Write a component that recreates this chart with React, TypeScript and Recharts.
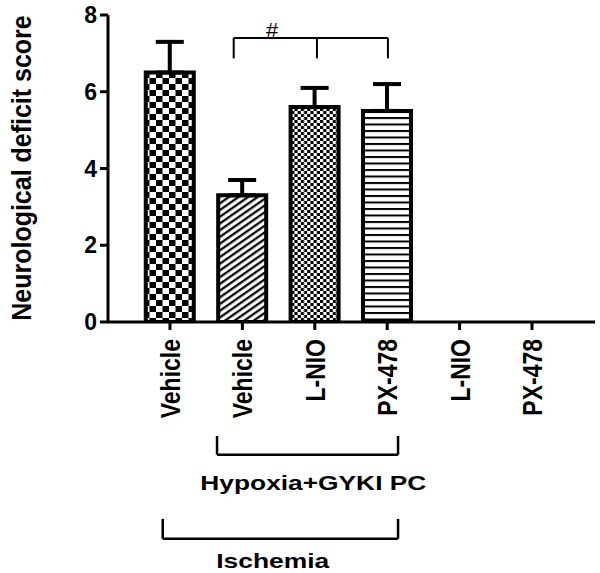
import React from 'react';
import {
  BarChart, Bar, XAxis, YAxis, ErrorBar, Cell, ReferenceLine, ReferenceDot,
} from 'recharts';

const positions = [1, 2, 3, 4, 5, 6];
const tickLabels = ['Vehicle', 'Vehicle', 'L-NIO', 'PX-478', 'L-NIO', 'PX-478'];
const scores: (number | null)[] = [6.5, 3.3, 5.6, 5.5, null, null];
const sem: (number | null)[] = [0.8, 0.4, 0.5, 0.7, null, null];
const fills = ['url(#checker)', 'url(#diag)', 'url(#fine)', 'url(#hlines)', 'none', 'none'];
const yTicks = [0, 2, 4, 6, 8];

const data = positions.map((x, i) => ({
  x,
  score: scores[i],
  err: sem[i] == null ? null : [0, sem[i] as number],
}));

const FONT = '"Liberation Sans", Arial, Helvetica, sans-serif';

const XTick = (props: any) => {
  const { x, y, payload } = props;
  const idx = positions.indexOf(payload.value);
  return (
    <text
      x={0}
      y={0}
      transform={`translate(${x},${y + 7}) rotate(-90) scale(1,1.2)`}
      textAnchor="end"
      dy="0.36em"
      fontFamily={FONT}
      fontWeight="bold"
      fontSize={23}
      fill="#000"
    >
      {tickLabels[idx]}
    </text>
  );
};

const textShape = (label: string, len: number, size: number) => (p: any) => (
  <text
    x={p.cx}
    y={p.cy}
    textAnchor="middle"
    dominantBaseline="central"
    fontFamily={FONT}
    fontWeight="bold"
    fontSize={size}
    fill="#000"
    textLength={len}
    lengthAdjust="spacingAndGlyphs"
  >
    {label}
  </text>
);

const hashShape = (p: any) => (
  <text x={p.cx} y={p.cy} textAnchor="middle" dominantBaseline="central" fontFamily={FONT} fontSize={22} fill="#000">
    #
  </text>
);

const seg = (x1: number, y1: number, x2: number, y2: number, w: number, key: string) => (
  <ReferenceLine
    key={key}
    segment={[{ x: x1, y: y1 }, { x: x2, y: y2 }]}
    stroke="#000"
    strokeWidth={w}
    ifOverflow="visible"
  />
);

export default function App() {
  return (
    <div style={{ position: 'absolute', left: 0, top: 0, width: 600, height: 573, background: '#fff' }}>
      <BarChart
        width={600}
        height={573}
        data={data}
        margin={{ top: 15, right: 5, bottom: 0, left: 48 }}
      >
        <defs>
          <pattern id="checker" width="13" height="12" patternUnits="userSpaceOnUse">
            <rect width="13" height="12" fill="#fff" />
            <rect x="0" y="0" width="6.5" height="6" fill="#000" />
            <rect x="6.5" y="6" width="6.5" height="6" fill="#000" />
          </pattern>
          <pattern id="diag" width="5.5" height="5.5" patternUnits="userSpaceOnUse" patternTransform="rotate(55)">
            <rect width="5.5" height="5.5" fill="#fff" />
            <line x1="1.2" y1="0" x2="1.2" y2="5.5" stroke="#000" strokeWidth="2.2" />
          </pattern>
          <pattern id="fine" width="6.4" height="6" patternUnits="userSpaceOnUse">
            <rect width="6.4" height="6" fill="#fff" />
            <rect x="0" y="0" width="3.2" height="3" fill="#000" />
            <rect x="3.2" y="3" width="3.2" height="3" fill="#000" />
          </pattern>
          <pattern id="hlines" width="6" height="6.5" patternUnits="userSpaceOnUse">
            <rect width="6" height="6.5" fill="#fff" />
            <line x1="0" y1="1" x2="6" y2="1" stroke="#000" strokeWidth="2" />
          </pattern>
        </defs>
        <XAxis
          type="number"
          dataKey="x"
          domain={[0.144, 6.87]}
          allowDataOverflow
          ticks={positions}
          interval={0}
          tick={<XTick />}
          tickSize={8}
          height={251}
          axisLine={{ stroke: '#000', strokeWidth: 3 }}
          tickLine={{ stroke: '#000', strokeWidth: 3 }}
        />
        <YAxis
          type="number"
          domain={[0, 8]}
          allowDataOverflow
          ticks={yTicks}
          width={60}
          tickSize={8}
          tickMargin={3}
          axisLine={{ stroke: '#000', strokeWidth: 3 }}
          tickLine={{ stroke: '#000', strokeWidth: 3 }}
          tick={{ fill: '#000', fontSize: 23, fontWeight: 'bold', fontFamily: FONT }}
          label={() => (
            <text
              x={0}
              y={0}
              transform="translate(22,168) rotate(-90) scale(1,1.1)"
              textAnchor="middle"
              dominantBaseline="central"
              fontFamily={FONT}
              fontWeight="bold"
              fontSize={25}
              fill="#000"
            >
              Neurological deficit score
            </text>
          )}
        />
        <Bar dataKey="score" barSize={48} stroke="#000" strokeWidth={4} isAnimationActive={false}>
          {data.map((d, i) => (
            <Cell key={i} fill={fills[i]} />
          ))}
          <ErrorBar dataKey="err" width={14} stroke="#000" strokeWidth={4} direction="y" />
        </Bar>
        {seg(1.88, 7.4, 4.01, 7.4, 2, 's1')}
        {seg(1.88, 7.4, 1.88, 6.87, 2, 's2')}
        {seg(3.03, 7.4, 3.03, 6.87, 2, 's3')}
        {seg(4.01, 7.4, 4.01, 6.87, 2, 's4')}
        <ReferenceDot x={2.41} y={7.6} r={0} ifOverflow="visible" shape={hashShape} />
        {seg(1.65, -2.97, 1.65, -3.46, 2.5, 'h1')}
        {seg(4.15, -2.97, 4.15, -3.46, 2.5, 'h2')}
        {seg(1.65, -3.46, 4.15, -3.46, 2.5, 'h3')}
        <ReferenceDot x={2.98} y={-4.18} r={0} ifOverflow="visible" shape={textShape('Hypoxia+GYKI PC', 226, 21)} />
        {seg(0.9, -5.13, 0.9, -5.65, 2.5, 'i1')}
        {seg(4.15, -5.13, 4.15, -5.65, 2.5, 'i2')}
        {seg(0.9, -5.65, 4.15, -5.65, 2.5, 'i3')}
        <ReferenceDot x={2.42} y={-6.21} r={0} ifOverflow="visible" shape={textShape('Ischemia', 113, 21)} />
      </BarChart>
    </div>
  );
}
